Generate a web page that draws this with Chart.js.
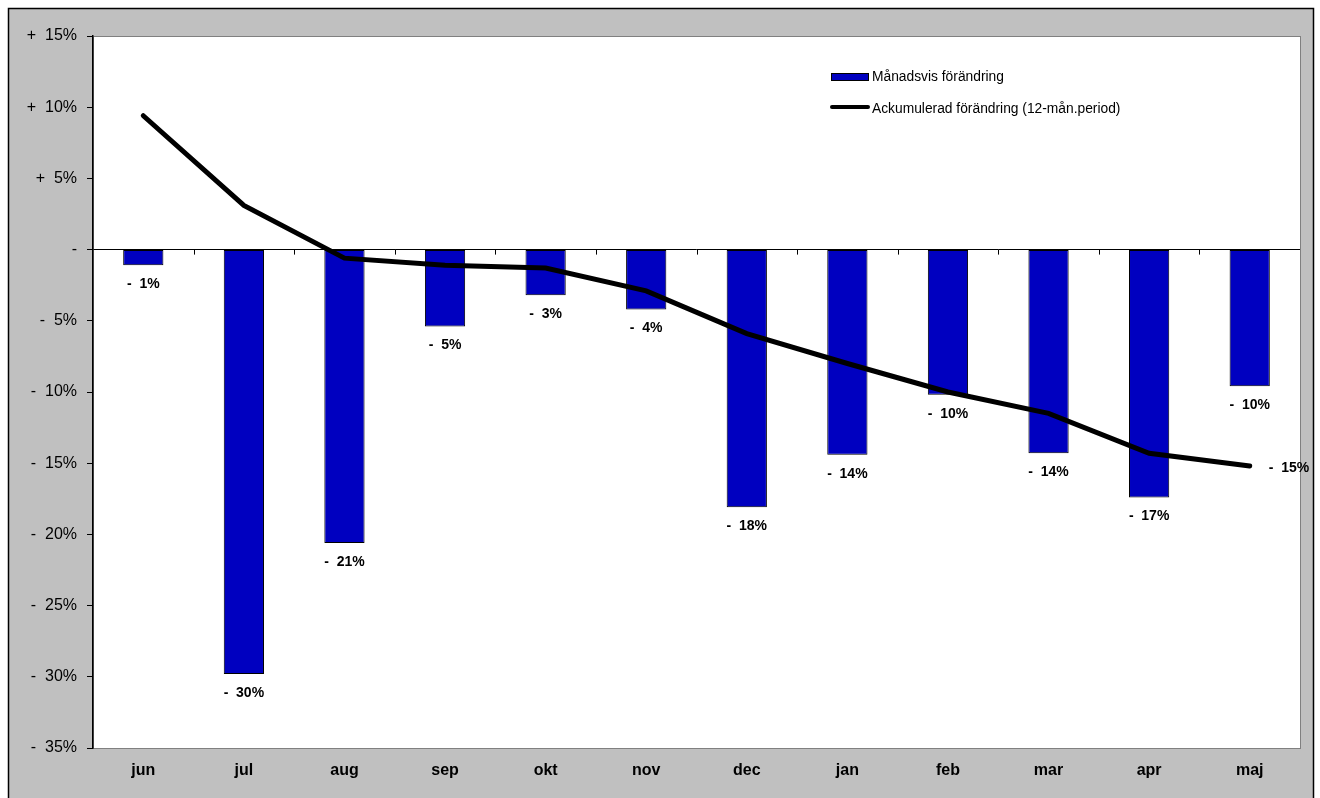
<!DOCTYPE html>
<html>
<head>
<meta charset="utf-8">
<script src="https://cdn.jsdelivr.net/npm/chart.js@4"></script>
<style>
  html, body { margin: 0; padding: 0; background: #ffffff; }
  canvas { display: block; }
</style>
</head>
<body>
<canvas id="chart" width="1320" height="798"></canvas>
<script>
// Data
const months = ['jun', 'jul', 'aug', 'sep', 'okt', 'nov', 'dec', 'jan', 'feb', 'mar', 'apr', 'maj'];
const monthlyChange = [-1.1, -29.8, -20.6, -5.4, -3.2, -4.2, -18.1, -14.4, -10.2, -14.3, -17.4, -9.6];
const accumulatedChange = [9.4, 3.1, -0.6, -1.1, -1.3, -2.9, -5.9, -8.0, -10.0, -11.5, -14.3, -15.2];
const yTicks = [15, 10, 5, 0, -5, -10, -15, -20, -25, -30, -35];

const FONT = 'Arial, "Liberation Sans", sans-serif';

function signedPct(v) {
    const n = Math.round(Math.abs(v));
    if (n === 0) return '-';
    return (v > 0 ? '+' : '-') + '  ' + n + '%';
}

// Gray frame, white plot area, labels and legend
const framePlugin = {
    id: 'frame',
    beforeDraw(chart) {
        const ctx = chart.ctx;
        const a = chart.chartArea;
        ctx.save();
        ctx.fillStyle = '#c0c0c0';
        ctx.fillRect(8, 8, 1305, 800);
        ctx.strokeStyle = '#000000';
        ctx.lineWidth = 1.5;
        ctx.strokeRect(8.5, 8.5, 1305, 800);
        ctx.fillStyle = '#ffffff';
        ctx.fillRect(a.left, a.top, a.right - a.left, a.bottom - a.top);
        ctx.strokeStyle = '#808080';
        ctx.lineWidth = 1;
        ctx.strokeRect(a.left + 0.5, a.top + 0.5, a.right - a.left, a.bottom - a.top);
        ctx.restore();
    },
    afterDraw(chart) {
        const ctx = chart.ctx;
        const x = chart.scales.x;
        const y = chart.scales.y;
        const y0 = y.getPixelForValue(0);
        ctx.save();
        // small ticks on the zero line between categories
        ctx.strokeStyle = '#000000';
        ctx.lineWidth = 1;
        for (let i = 1; i < months.length; i++) {
            const px = Math.round((x.getPixelForValue(i - 1) + x.getPixelForValue(i)) / 2) + 0.5;
            ctx.beginPath();
            ctx.moveTo(px, y0);
            ctx.lineTo(px, y0 + 5);
            ctx.stroke();
        }
        // bar value labels
        ctx.fillStyle = '#000000';
        ctx.font = 'bold 14px ' + FONT;
        ctx.textAlign = 'center';
        ctx.textBaseline = 'middle';
        const barMeta = chart.getDatasetMeta(0);
        barMeta.data.forEach((bar, i) => {
            ctx.fillText(signedPct(monthlyChange[i]), bar.x, bar.y + 19);
        });
        // last value of the line
        const lineMeta = chart.getDatasetMeta(1);
        const last = lineMeta.data[lineMeta.data.length - 1];
        ctx.textAlign = 'left';
        ctx.fillText(signedPct(accumulatedChange[accumulatedChange.length - 1]), last.x + 19, last.y + 2);

        // legend
        ctx.font = '13.8px ' + FONT;
        ctx.fillStyle = '#0000c0';
        ctx.fillRect(831, 73, 37, 7);
        ctx.strokeStyle = '#000000';
        ctx.lineWidth = 1;
        ctx.strokeRect(831.5, 73.5, 37, 7);
        ctx.fillStyle = '#000000';
        ctx.fillText('Månadsvis förändring', 872, 77);
        ctx.lineWidth = 4;
        ctx.lineCap = 'round';
        ctx.beginPath();
        ctx.moveTo(832, 107);
        ctx.lineTo(868, 107);
        ctx.stroke();
        ctx.fillText('Ackumulerad förändring (12-mån.period)', 872, 109);
        ctx.restore();
    }
};

const chart = new Chart(document.getElementById('chart'), {
    data: {
        labels: months,
        datasets: [{
            type: 'bar',
            label: 'Månadsvis förändring',
            data: monthlyChange,
            backgroundColor: '#0000c0',
            borderColor: '#000000',
            borderWidth: 1,
            borderSkipped: false,
            barPercentage: 0.4,
            categoryPercentage: 1.0,
            order: 2
        }, {
            type: 'line',
            label: 'Ackumulerad förändring (12-mån.period)',
            data: accumulatedChange,
            borderColor: '#000000',
            borderWidth: 5,
            borderCapStyle: 'round',
            pointRadius: 0,
            tension: 0,
            fill: false,
            order: 1
        }]
    },
    options: {
        responsive: false,
        animation: false,
        devicePixelRatio: 1,
        layout: {
            padding: { left: 8, top: 36, right: 20, bottom: 10 }
        },
        plugins: {
            legend: { display: false },
            tooltip: { enabled: false }
        },
        scales: {
            x: {
                grid: { display: false, drawTicks: false },
                border: { display: true, color: '#808080' },
                ticks: {
                    color: '#000000',
                    padding: 13,
                    font: { family: FONT, size: 16, weight: 'bold' }
                },
                afterFit(scale) { scale.height = 40; }
            },
            y: {
                min: -35,
                max: 15,
                afterBuildTicks(scale) {
                    scale.ticks = yTicks.map(v => ({ value: v }));
                },
                grid: {
                    color: c => (c.tick && c.tick.value === 0 ? '#000000' : 'rgba(0,0,0,0)'),
                    tickColor: '#000000',
                    tickLength: 6,
                    lineWidth: 1
                },
                border: { display: true, color: '#000000', width: 1.5 },
                ticks: {
                    color: '#000000',
                    padding: 10,
                    font: { family: FONT, size: 16 },
                    callback: v => signedPct(v)
                },
                afterFit(scale) { scale.width = 85; }
            }
        }
    },
    plugins: [framePlugin]
});
</script>
</body>
</html>
